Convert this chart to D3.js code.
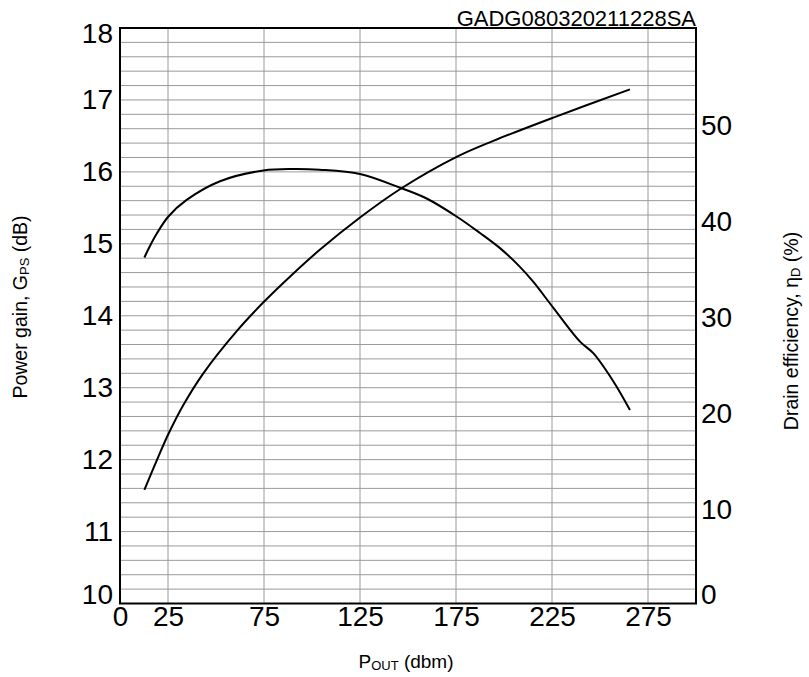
<!DOCTYPE html>
<html>
<head>
<meta charset="utf-8">
<script src="https://cdn.jsdelivr.net/npm/d3@7"></script>
<style>
  html, body { margin: 0; padding: 0; background: #fff; }
  svg { display: block; font-family: "Liberation Sans", Arial, sans-serif; }
</style>
</head>
<body>
<svg id="chart" width="809" height="677"></svg>
<script>
// ---- data ----
const chartCode = "GADG080320211228SA";
const xTickValues = [0, 25, 75, 125, 175, 225, 275];
const xGridValues = [25, 75, 125, 175, 225, 275];
const gainTickValues = [10, 11, 12, 13, 14, 15, 16, 17, 18];
const effTickValues = [0, 10, 20, 30, 40, 50];

const gainPout = [12.7, 15.6, 19.1, 25.2, 34.7, 52.1, 74.7, 90.3, 104, 125, 145.8, 159.7, 175.3, 187.5, 197.9, 208.3, 215.3, 225.7, 239.6, 246.5, 256.9, 265.6];
const gainValues = [14.81, 14.97, 15.14, 15.38, 15.61, 15.87, 16.02, 16.04, 16.03, 15.97, 15.78, 15.63, 15.38, 15.15, 14.94, 14.68, 14.47, 14.11, 13.64, 13.48, 13.09, 12.69];

const effPout = [12.7, 19.1, 25.2, 33, 43.4, 60.8, 74.7, 90.3, 104.2, 125, 145.8, 175.3, 194.4, 225.7, 265.6];
const effValues = [11.84, 14.9, 17.67, 20.7, 24.0, 28.4, 31.4, 34.41, 36.9, 40.24, 43.19, 46.56, 48.23, 50.66, 53.6];

// ---- layout ----
const svg = d3.select("#chart");
const L = 120, R = 696, T = 28, B = 603.5;

const x = d3.scaleLinear().domain([0, 300]).range([L, R]);
const yG = d3.scaleLinear().domain([10, 18]).range([B, T]);
const yE = d3.scaleLinear().domain([0, 60]).range([B, T]);

// grid
const gridG = svg.append("g");
const minorGain = d3.range(10, 18.0001, 0.2).map(v => +v.toFixed(1)).filter(v => v > 10 && v < 18);
gridG.selectAll("line.h").data(minorGain).enter().append("line")
  .attr("x1", L).attr("x2", R)
  .attr("y1", d => yG(d)).attr("y2", d => yG(d))
  .attr("stroke", "#9a9a9a").attr("stroke-width", 1);
gridG.selectAll("line.v").data(xGridValues).enter().append("line")
  .attr("y1", T).attr("y2", B)
  .attr("x1", d => x(d)).attr("x2", d => x(d))
  .attr("stroke", "#9a9a9a").attr("stroke-width", 1);

// curves
const lineGain = d3.line().x(d => x(d[0])).y(d => yG(d[1])).curve(d3.curveCatmullRom.alpha(0.5));
const lineEff = d3.line().x(d => x(d[0])).y(d => yE(d[1])).curve(d3.curveCatmullRom.alpha(0.5));
svg.append("path").datum(d3.zip(gainPout, gainValues))
  .attr("d", lineGain).attr("fill", "none").attr("stroke", "#000").attr("stroke-width", 2);
svg.append("path").datum(d3.zip(effPout, effValues))
  .attr("d", lineEff).attr("fill", "none").attr("stroke", "#000").attr("stroke-width", 2);

// frame
svg.append("rect").attr("x", L).attr("y", T).attr("width", R - L).attr("height", B - T)
  .attr("fill", "none").attr("stroke", "#000").attr("stroke-width", 2);

// axes
const axisStyle = g => {
  g.select(".domain").remove();
  g.selectAll(".tick line").remove();
  g.selectAll("text").attr("font-size", 28).attr("fill", "#000")
    .attr("font-family", "Liberation Sans, Arial, sans-serif");
};

const gLeft = svg.append("g").attr("transform", `translate(${L},0)`)
  .call(d3.axisLeft(yG).tickValues(gainTickValues).tickSize(0).tickPadding(7).tickFormat(d3.format("d")))
  .call(axisStyle);
gLeft.selectAll(".tick text")
  .attr("dy", d => d === 18 ? "0.52em" : d === 10 ? "0.0em" : "0.32em");

const gRight = svg.append("g").attr("transform", `translate(${R},0)`)
  .call(d3.axisRight(yE).tickValues(effTickValues).tickSize(0).tickPadding(5).tickFormat(d3.format("d")))
  .call(axisStyle);
gRight.selectAll(".tick text")
  .attr("dy", d => d === 0 ? "0.0em" : "0.38em");

const gBottom = svg.append("g").attr("transform", `translate(0,${B})`)
  .call(d3.axisBottom(x).tickValues(xTickValues).tickSize(0).tickPadding(3).tickFormat(d3.format("d")))
  .call(axisStyle);

// chart code
svg.append("text").attr("x", R).attr("y", 26).attr("text-anchor", "end")
  .attr("font-size", 22).attr("fill", "#000").text(chartCode);

// axis titles
const leftTitle = svg.append("text")
  .attr("transform", "translate(27,307) rotate(-90)")
  .attr("text-anchor", "middle").attr("font-size", 19.5).attr("fill", "#000");
leftTitle.append("tspan").text("Power gain, G");
leftTitle.append("tspan").attr("font-size", 13).attr("dy", 2).text("PS");
leftTitle.append("tspan").attr("dy", -2).text(" (dB)");

const rightTitle = svg.append("text")
  .attr("transform", "translate(798,331) rotate(-90)")
  .attr("text-anchor", "middle").attr("font-size", 19.5).attr("fill", "#000");
rightTitle.append("tspan").text("Drain efficiency, η");
rightTitle.append("tspan").attr("font-size", 13).attr("dy", 2).text("D");
rightTitle.append("tspan").attr("dy", -2).text(" (%)");

const bottomTitle = svg.append("text")
  .attr("x", 406).attr("y", 668)
  .attr("text-anchor", "middle").attr("font-size", 19).attr("fill", "#000");
bottomTitle.append("tspan").text("P");
bottomTitle.append("tspan").attr("font-size", 13).attr("dy", 2).text("OUT");
bottomTitle.append("tspan").attr("dy", -2).text(" (dbm)");
</script>
</body>
</html>
